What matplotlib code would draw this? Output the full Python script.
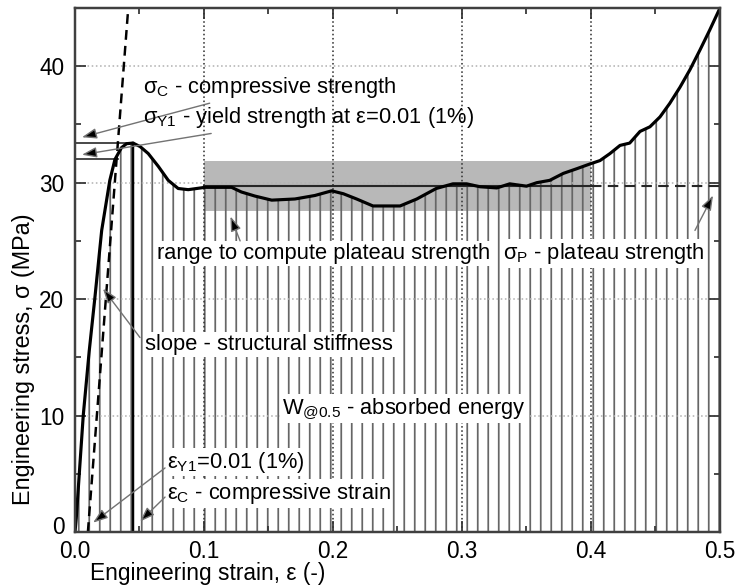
import numpy as np
import matplotlib
matplotlib.use('Agg')
import matplotlib.pyplot as plt
from matplotlib.transforms import ScaledTranslation

# stress-strain curve
strain = [0.0, 0.001, 0.0064, 0.011, 0.0155, 0.0207, 0.027, 0.031, 0.036, 0.040,
          0.045, 0.0505, 0.0568, 0.0646, 0.0723, 0.080, 0.0878, 0.1008, 0.1214, 0.129,
          0.1395, 0.1525, 0.1705, 0.186, 0.199, 0.208, 0.2183, 0.231, 0.252, 0.265,
          0.280, 0.293, 0.3036, 0.314, 0.327, 0.337, 0.350, 0.358, 0.368, 0.3786,
          0.389, 0.399, 0.407, 0.4147, 0.4225, 0.430, 0.438, 0.4457, 0.4535, 0.461,
          0.469, 0.4767, 0.4845, 0.492, 0.5]
stress = [0.0, 1.2, 10.0, 15.5, 20.2, 25.9, 30.2, 32.0, 33.0, 33.35,
          33.4, 33.1, 32.5, 31.4, 30.2, 29.5, 29.4, 29.6, 29.6, 29.2,
          28.85, 28.5, 28.6, 28.9, 29.3, 29.05, 28.6, 28.0, 28.0, 28.6,
          29.5, 29.9, 29.9, 29.65, 29.55, 29.9, 29.7, 30.0, 30.2, 30.8,
          31.2, 31.6, 31.9, 32.5, 33.2, 33.4, 34.4, 34.8, 35.65, 36.8,
          38.2, 39.7, 41.4, 43.1, 45.0]

# characteristic values
sigma_c = 33.4      # compressive strength
eps_c = 0.045       # compressive strain
sigma_y1 = 32.0     # yield strength at 1 %
eps_y1_end = 0.033  # where the offset line meets the curve
eps_y1 = 0.01
slope_top = (0.0413, 45.0)  # offset line end point
sigma_p = 29.7      # plateau strength
plateau_range = (0.1, 0.4)
band = (27.6, 31.9)

DPI = 126
plt.rcParams['font.family'] = ['Liberation Sans', 'DejaVu Sans']
plt.rcParams['mathtext.default'] = 'regular'
plt.rcParams['hatch.linewidth'] = 1.0
plt.rcParams['hatch.color'] = '0.4'
FS = 12.5

fig = plt.figure(figsize=(738 / DPI, 585 / DPI), dpi=DPI)
ax = fig.add_axes([0.1016, 0.0906, 0.874, 0.8957])

# area under the curve (absorbed energy)
ax.fill_between(strain, 0, stress, facecolor='none', edgecolor='0.4',
                hatch='||', linewidth=0, zorder=2)

# plateau band + plateau line
ax.fill_between(plateau_range, band[0], band[1], color='0.72', lw=0, zorder=1)
ax.plot(plateau_range, [sigma_p, sigma_p], color='0.15', lw=1.2, zorder=3)
ax.plot([plateau_range[1], 0.5], [sigma_p, sigma_p], color='0.15', lw=1.2,
        ls=(0, (5, 3)), zorder=3)

# strength / strain markers
ax.plot([0, eps_c], [sigma_c, sigma_c], color='0.2', lw=1.0, zorder=3)
ax.plot([0, eps_y1_end], [sigma_y1, sigma_y1], color='0.2', lw=1.0, zorder=3)
ax.plot([eps_c, eps_c], [0, sigma_c], color='black', lw=1.4, zorder=3)
ax.plot([eps_y1, slope_top[0]], [0, slope_top[1]], color='black', lw=1.4,
        ls=(0, (4, 2.5)), zorder=4)

# the curve
ax.plot(strain, stress, color='black', lw=1.8, zorder=5)

box = dict(facecolor='white', edgecolor='none', pad=1.0)
arrow = dict(arrowstyle='-|>,head_length=0.7,head_width=0.25', ec='0.45',
             fc='black', lw=0.8, mutation_scale=10, shrinkA=0, shrinkB=0)

ax.annotate('σ$_C$ - compressive strength', xy=(0.0054, 33.9), xytext=(0.0527, 38.2),
            fontsize=FS, va='center', arrowprops=arrow, zorder=6)
ax.annotate('σ$_{Y1}$ - yield strength at ε=0.01 (1%)', xy=(0.0054, 32.4),
            xytext=(0.0527, 35.6), fontsize=FS, va='center', arrowprops=arrow, zorder=6)
ax.annotate('range to compute plateau strength', xy=(0.1205, 27.1), xytext=(0.0636, 23.9),
            fontsize=FS, va='center', bbox=box, zorder=6)
ax.annotate('', xy=(0.1205, 27.1), xytext=(0.128, 25.0), arrowprops=arrow, zorder=6)
ax.annotate('σ$_P$ - plateau strength', xy=(0.4946, 28.9), xytext=(0.332, 23.9),
            fontsize=FS, va='center', bbox=box, zorder=6)
ax.annotate('', xy=(0.4946, 28.9), xytext=(0.4806, 25.9), arrowprops=arrow, zorder=6)
ax.annotate('slope - structural stiffness', xy=(0.0217, 20.9), xytext=(0.0543, 16.1),
            fontsize=FS, va='center', bbox=box, zorder=6)
ax.annotate('', xy=(0.0217, 20.9), xytext=(0.0504, 16.7), arrowprops=arrow, zorder=6)
ax.text(0.1605, 10.6, 'W$_{@0.5}$ - absorbed energy', fontsize=FS, va='center',
        bbox=box, zorder=6)
ax.annotate('ε$_{Y1}$=0.01 (1%)', xy=(0.014, 0.8), xytext=(0.0711, 6.0),
            fontsize=FS, va='center', bbox=box, zorder=6)
ax.annotate('', xy=(0.014, 0.8), xytext=(0.0698, 5.5), arrowprops=arrow, zorder=6)
ax.annotate('ε$_C$ - compressive strain', xy=(0.0504, 0.9), xytext=(0.0711, 3.3),
            fontsize=FS, va='center', bbox=box, zorder=6)
ax.annotate('', xy=(0.0504, 0.9), xytext=(0.0698, 3.0), arrowprops=arrow, zorder=6)

# axes styling
ax.set_xlim(0, 0.5)
ax.set_ylim(0, 45)
ax.set_xticks([0.0, 0.1, 0.2, 0.3, 0.4, 0.5])
ax.set_xticks(np.arange(0.05, 0.5, 0.1), minor=True)
ax.set_yticks([0, 10, 20, 30, 40])
ax.set_yticks([5, 15, 25, 35], minor=True)
ax.tick_params(which='both', direction='in', top=True, right=True, width=1.0,
               color='0.2', labelsize=12.9)
ax.tick_params(which='major', length=6.5, pad=6)
ax.tick_params(axis='x', which='major', pad=4.5)
ax.tick_params(which='minor', length=3.5)
ax.xaxis.grid(True, ls=':', color='0.2', lw=0.9, zorder=3)
ax.yaxis.grid(True, ls=':', color='0.7', lw=0.9)
ax.set_axisbelow(False)
for s in ax.spines.values():
    s.set_linewidth(1.4)
    s.set_color('0.25')
    s.set_zorder(7)

# lift the y "0" a little so it clears the x "0.0"
zero = ax.yaxis.get_major_ticks()[0].label1
zero.set_transform(zero.get_transform() + ScaledTranslation(0, 4 / 72, fig.dpi_scale_trans))

ax.set_xlabel('Engineering strain, ε (-)', fontsize=13.0)
ax.xaxis.set_label_coords(0.205, -0.057)
ax.set_ylabel('Engineering stress, σ (MPa)', fontsize=13.4)
ax.yaxis.set_label_coords(-0.062, 0.33)

fig.savefig('out.png', dpi=DPI)
